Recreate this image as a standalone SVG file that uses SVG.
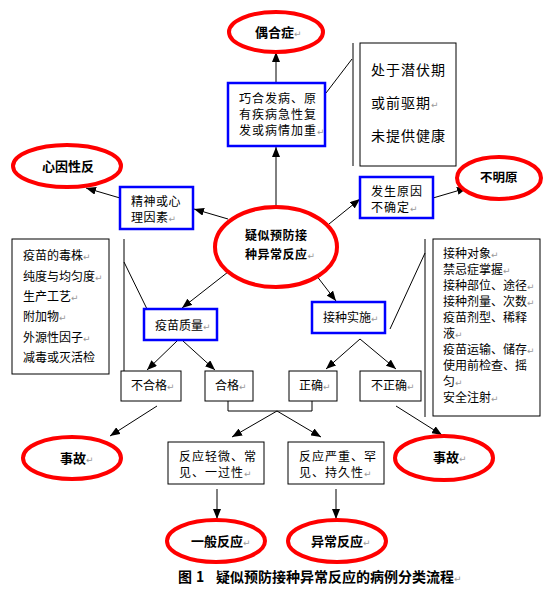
<svg xmlns="http://www.w3.org/2000/svg" width="552" height="593" viewBox="0 0 552 593">
<style>
.e{fill:#fff;stroke:#f00;stroke-width:4}
.b{fill:#fff;stroke:#00f;stroke-width:2.5}
.k{fill:#fff;stroke:#000;stroke-width:1}
.t{font-family:"Noto Sans CJK SC","Noto Sans CJK JP",sans-serif;font-size:12px;fill:#000}
.t2{font-family:"Noto Sans CJK SC","Noto Sans CJK JP",sans-serif;font-size:12px;letter-spacing:1px;fill:#000}
.tb{font-family:"Noto Sans CJK SC","Noto Sans CJK JP",sans-serif;font-size:13px;font-weight:bold;fill:#000}
.tb2{font-family:"Noto Sans CJK SC","Noto Sans CJK JP",sans-serif;font-size:12px;letter-spacing:0.5px;font-weight:bold;fill:#000}
.rm{font-family:"DejaVu Sans",sans-serif;font-size:9px;font-weight:normal;letter-spacing:0;fill:#999}
.c line,.c polyline{stroke:#000;stroke-width:1;fill:none}
.a{marker-end:url(#ah)}
</style>
<defs>
<marker id="ah" markerWidth="10" markerHeight="8" refX="10" refY="4" orient="auto" markerUnits="userSpaceOnUse">
<path d="M0,0 L10,4 L0,8 z" fill="#000"/>
</marker>
</defs>
<g class="c" id="connectors">
<line class="a" x1="276" y1="207" x2="276" y2="147"/>
<line class="a" x1="276" y1="83" x2="276" y2="52"/>
<line class="a" x1="329" y1="224" x2="360" y2="199"/>
<line class="a" x1="433" y1="198" x2="467" y2="188"/>
<line class="a" x1="228" y1="219" x2="194" y2="209"/>
<line class="a" x1="120" y1="198" x2="86" y2="188"/>
<line class="a" x1="228" y1="272" x2="182" y2="308"/>
<line class="a" x1="316" y1="275" x2="336" y2="301"/>
<line class="a" x1="177" y1="341" x2="147" y2="370"/>
<line class="a" x1="183" y1="341" x2="215" y2="370"/>
<line class="a" x1="360" y1="339" x2="326" y2="369"/>
<line class="a" x1="360" y1="339" x2="396" y2="369"/>
<line class="a" x1="157" y1="406" x2="110" y2="436"/>
<line class="a" x1="396" y1="406" x2="442" y2="435"/>
<polyline points="228,401 228,411 312,411 312,401"/>
<line class="a" x1="277" y1="411" x2="232" y2="437"/>
<line class="a" x1="277" y1="411" x2="321" y2="437"/>
<line class="a" x1="217" y1="489" x2="217" y2="519"/>
<line class="a" x1="336" y1="489" x2="336" y2="519"/>
<line x1="326" y1="93" x2="352" y2="59"/>
<line x1="353" y1="43" x2="353" y2="166"/>
<line x1="124" y1="239" x2="124" y2="375"/>
<line x1="124" y1="262" x2="147" y2="309"/>
<line x1="425" y1="239" x2="425" y2="417"/>
<line x1="390" y1="329" x2="425" y2="253"/>
</g>
<g id="n-ouhe">
<ellipse class="e" cx="276" cy="32" rx="47" ry="20"/>
<text class="tb" x="255" y="37">偶合症<tspan class="rm">↵</tspan></text>
</g>
<g id="n-qiaohe">
<rect class="b" x="228" y="83" width="97" height="63"/>
<text class="t2" x="239" y="103">巧合发病、原</text>
<text class="t2" x="239" y="119">有疾病急性复</text>
<text class="t2" x="239" y="135">发或病情加重<tspan class="rm">↵</tspan></text>
</g>
<g id="n-qianfu">
<rect class="k" x="360" y="43" width="96" height="123"/>
<text class="t" style="font-size:14px;letter-spacing:1px" x="371" y="75">处于潜伏期</text>
<text class="t" style="font-size:14px;letter-spacing:1px" x="371" y="108">或前驱期<tspan class="rm">↵</tspan></text>
<text class="t" style="font-size:14px;letter-spacing:1px" x="371" y="141">未提供健康</text>
</g>
<g id="n-xinyin">
<ellipse class="e" cx="67" cy="166" rx="54" ry="21"/>
<text class="tb" x="42" y="171">心因性反</text>
</g>
<g id="n-jingshen">
<rect class="b" x="120" y="187" width="73" height="42"/>
<text class="t" style="letter-spacing:0.5px" x="131" y="206">精神或心</text>
<text class="t" style="letter-spacing:0.5px" x="131" y="222">理因素<tspan class="rm">↵</tspan></text>
</g>
<g id="n-buming">
<ellipse class="e" cx="499" cy="178" rx="42" ry="21"/>
<text class="tb" style="font-size:12.5px" x="480" y="182">不明原</text>
</g>
<g id="n-fasheng">
<rect class="b" x="360" y="177" width="73" height="41"/>
<text class="t2" x="371" y="196">发生原因</text>
<text class="t2" x="371" y="212">不确定<tspan class="rm">↵</tspan></text>
</g>
<g id="n-center">
<ellipse class="e" cx="276" cy="247" rx="61" ry="40"/>
<text class="tb2" x="245" y="240">疑似预防接</text>
<text class="tb2" x="245" y="259">种异常反应<tspan class="rm">↵</tspan></text>
</g>
<g id="n-leftlist">
<rect class="k" x="12" y="239" width="97" height="135"/>
<text class="t" x="23" y="260">疫苗的毒株<tspan class="rm">↵</tspan></text>
<text class="t" x="23" y="281">纯度与均匀度<tspan class="rm">↵</tspan></text>
<text class="t" x="23" y="301">生产工艺<tspan class="rm">↵</tspan></text>
<text class="t" x="23" y="321">附加物<tspan class="rm">↵</tspan></text>
<text class="t" x="23" y="342">外源性因子<tspan class="rm">↵</tspan></text>
<text class="t" x="23" y="362">减毒或灭活检</text>
</g>
<g id="n-zhiliang">
<rect class="b" x="144" y="309" width="73" height="31"/>
<text class="t" x="155" y="330">疫苗质量<tspan class="rm">↵</tspan></text>
</g>
<g id="n-shishi">
<rect class="b" x="312" y="302" width="73" height="31"/>
<text class="t" x="323" y="322">接种实施<tspan class="rm">↵</tspan></text>
</g>
<g id="n-rightlist">
<rect class="k" x="433" y="239" width="107" height="177"/>
<text class="t" x="443" y="258">接种对象<tspan class="rm">↵</tspan></text>
<text class="t" x="443" y="274">禁忌症掌握<tspan class="rm">↵</tspan></text>
<text class="t" x="443" y="290">接种部位、途径<tspan class="rm">↵</tspan></text>
<text class="t" x="443" y="306">接种剂量、次数<tspan class="rm">↵</tspan></text>
<text class="t" x="443" y="322">疫苗剂型、稀释</text>
<text class="t" x="443" y="338">液<tspan class="rm">↵</tspan></text>
<text class="t" x="443" y="354">疫苗运输、储存<tspan class="rm">↵</tspan></text>
<text class="t" x="443" y="370">使用前检查、摇</text>
<text class="t" x="443" y="386">匀<tspan class="rm">↵</tspan></text>
<text class="t" x="443" y="402">安全注射<tspan class="rm">↵</tspan></text>
</g>
<g id="n-buhege">
<rect class="k" x="121" y="371" width="60" height="30"/>
<text class="t" x="131" y="390">不合格<tspan class="rm">↵</tspan></text>
</g>
<g id="n-hege">
<rect class="k" x="205" y="371" width="48" height="30"/>
<text class="t" x="215" y="390">合格<tspan class="rm">↵</tspan></text>
</g>
<g id="n-zhengque">
<rect class="k" x="289" y="371" width="48" height="30"/>
<text class="t" x="299" y="390">正确<tspan class="rm">↵</tspan></text>
</g>
<g id="n-buzhengque">
<rect class="k" x="360" y="371" width="61" height="30"/>
<text class="t" x="371" y="390">不正确<tspan class="rm">↵</tspan></text>
</g>
<g id="n-shigu-l">
<ellipse class="e" cx="72" cy="458" rx="49" ry="21"/>
<text class="tb" x="60" y="463">事故<tspan class="rm">↵</tspan></text>
</g>
<g id="n-qingwei">
<rect class="k" x="168" y="442" width="96" height="42"/>
<text class="t2" x="179" y="461">反应轻微、常</text>
<text class="t2" x="179" y="477">见、一过性<tspan class="rm">↵</tspan></text>
</g>
<g id="n-yanzhong">
<rect class="k" x="288" y="442" width="96" height="42"/>
<text class="t2" x="299" y="461">反应严重、罕</text>
<text class="t2" x="299" y="477">见、持久性<tspan class="rm">↵</tspan></text>
</g>
<g id="n-shigu-r">
<ellipse class="e" cx="444" cy="458" rx="49" ry="22"/>
<text class="tb" x="433" y="462">事故<tspan class="rm">↵</tspan></text>
</g>
<g id="n-yiban">
<ellipse class="e" cx="216" cy="541" rx="49" ry="21"/>
<text class="tb" x="191" y="546">一般反应<tspan class="rm">↵</tspan></text>
</g>
<g id="n-yichang">
<ellipse class="e" cx="337" cy="541" rx="49" ry="21"/>
<text class="tb" x="311" y="546">异常反应<tspan class="rm">↵</tspan></text>
</g>
<g id="caption">
<text class="tb" style="font-size:14px" x="178" y="582">图<tspan x="196">1</tspan><tspan x="216">疑似预防接种异常反应的病例分类流程</tspan><tspan class="rm">↵</tspan></text>
</g>
</svg>
